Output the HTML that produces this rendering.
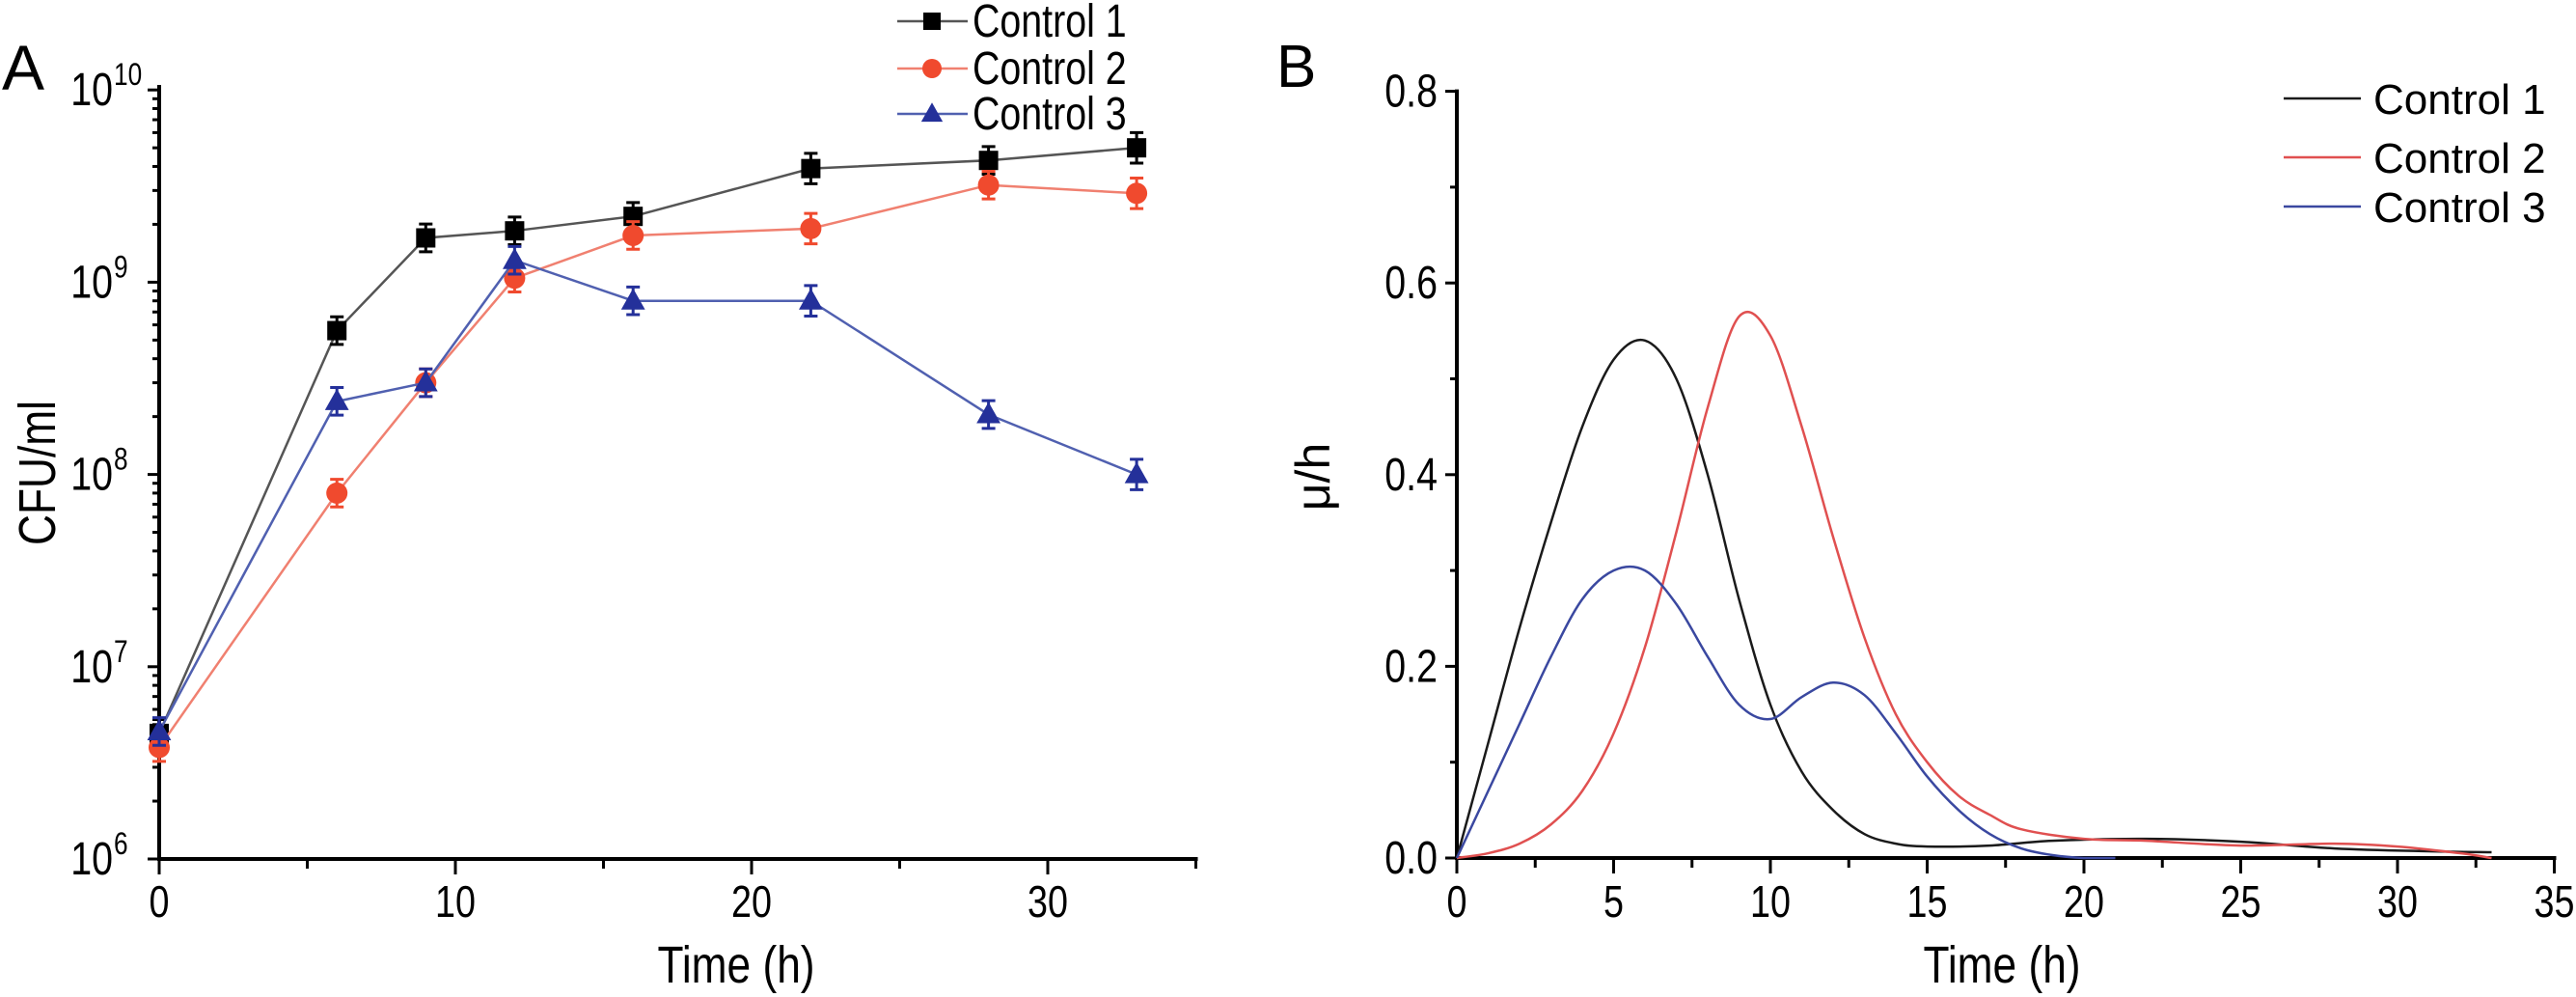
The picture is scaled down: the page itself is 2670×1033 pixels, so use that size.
<!DOCTYPE html>
<html><head><meta charset="utf-8">
<style>
html,body{margin:0;padding:0;background:#fff;}
svg{display:block;}
text{font-family:"Liberation Sans Narrow","Liberation Sans",sans-serif;fill:#000;}
.lg{font-family:"Liberation Sans",sans-serif;}
</style></head>
<body>
<svg id="chart" width="2670" height="1033" viewBox="0 0 2670 1033" xmlns="http://www.w3.org/2000/svg">
<g id="panelA"></g>
<g id="panelB"></g>
</svg>
<script>
// ---- Panel A data ----
const timesA = [0, 6, 9, 12, 16, 22, 28, 33];
const control1A = [4.5e6, 5.6e8, 1.7e9, 1.85e9, 2.2e9, 3.9e9, 4.3e9, 5.0e9];
const control2A = [3.8e6, 8.0e7, 3.0e8, 1.05e9, 1.75e9, 1.9e9, 3.2e9, 2.9e9];
const control3A = [4.6e6, 2.4e8, 3.0e8, 1.3e9, 8.0e8, 8.0e8, 2.05e8, 1.0e8];
const errFracA = [0.18, 0.18, 0.18, 0.18, 0.18, 0.2, 0.18, 0.2];
const xTicksA = [0, 10, 20, 30];
const yDecadesA = [6, 7, 8, 9, 10];
const seriesNamesA = ["Control 1", "Control 2", "Control 3"];

// ---- Panel B data ----
const t1B = [0, 1, 2, 3, 4, 5, 6, 7, 8, 9, 10, 11, 12, 13, 14, 15, 17, 19, 22, 25, 28, 31, 33];
const mu1B = [0, 0.12, 0.24, 0.35, 0.45, 0.52, 0.54, 0.50, 0.40, 0.27, 0.16, 0.09, 0.05, 0.025, 0.015, 0.012, 0.013, 0.018, 0.02, 0.017, 0.01, 0.007, 0.006];
const t2B = [0, 1, 2, 3, 4, 5, 6, 7, 8, 9, 10, 11, 12, 13, 14, 15, 16, 17, 18, 20, 22, 25, 28, 30, 32, 33];
const mu2B = [0, 0.005, 0.015, 0.035, 0.07, 0.13, 0.22, 0.34, 0.47, 0.565, 0.545, 0.45, 0.335, 0.23, 0.15, 0.1, 0.065, 0.045, 0.03, 0.02, 0.018, 0.013, 0.015, 0.012, 0.005, 0];
const t3B = [0, 1, 2, 3, 4, 5, 6, 7, 8, 9, 10, 11, 12, 13, 14, 15, 16, 17, 18, 19, 20, 21];
const mu3B = [0, 0.07, 0.14, 0.21, 0.27, 0.30, 0.30, 0.265, 0.21, 0.16, 0.145, 0.168, 0.183, 0.17, 0.13, 0.085, 0.05, 0.025, 0.01, 0.003, 0, 0];
const xTicksB = [0, 5, 10, 15, 20, 25, 30, 35];
const yTicksB = [0.0, 0.2, 0.4, 0.6, 0.8];

const NS = "http://www.w3.org/2000/svg";
function mk(parent, tag, attrs, txt){
  const e = document.createElementNS(NS, tag);
  for (const k in attrs) e.setAttribute(k, attrs[k]);
  if (txt !== undefined) e.textContent = txt;
  parent.appendChild(e);
  return e;
}
const SQ = 0.82;
function ntext(parent, x, y, size, anchor, str, rot){
  const tr = `translate(${x},${y})` + (rot ? ` rotate(${rot})` : "") + ` scale(${SQ},1)`;
  return mk(parent, "text", {x: 0, y: 0, "font-size": size, "text-anchor": anchor, transform: tr}, str);
}

// ===== Panel A =====
const gA = document.getElementById("panelA");
const AX0 = 165, AXPER = 30.7, AY6 = 890, ADEC = 199.2;
function xA(t){ return AX0 + t * AXPER; }
function yA(v){ return AY6 - (Math.log10(v) - 6) * ADEC; }

let e;
e = mk(gA, "text", {x: 2, y: 93, "font-size": 66, "font-family": "Liberation Sans, sans-serif"}, "A");



e = mk(gA, "line", {x1: AX0, y1: 88, x2: AX0, y2: AY6 + 2, stroke: "#000", "stroke-width": 4});


e = mk(gA, "line", {x1: AX0 - 2, y1: AY6, x2: xA(35) + 2, y2: AY6, stroke: "#000", "stroke-width": 4});



yDecadesA.forEach(d => {
  const y = yA(Math.pow(10, d));
  e = mk(gA, "line", {x1: AX0 - 12, y1: y, x2: AX0, y2: y, stroke: "#000", "stroke-width": 3});
  
  
  const t = ntext(gA, AX0 - 48, y + 16, 48, "end", "10");
  
  
  const s = ntext(gA, AX0 - 47, y - 5, 32, "start", String(d));
  
  
  if (d < 10) {
    for (let m = 2; m <= 9; m++) {
      const ym = yA(m * Math.pow(10, d));
      e = mk(gA, "line", {x1: AX0 - 7, y1: ym, x2: AX0, y2: ym, stroke: "#000", "stroke-width": 3});
      
      
    }
  }
});
for (let t = 0; t <= 35; t += 5) {
  const major = t % 10 === 0;
  e = mk(gA, "line", {x1: xA(t), y1: AY6, x2: xA(t), y2: AY6 + (major ? 16 : 10), stroke: "#000", "stroke-width": 3});
  
  
}
xTicksA.forEach(t => {
  e = ntext(gA, xA(t), 950, 46, "middle", String(t));
  
  
});
e = ntext(gA, 763, 1018, 54, "middle", "Time (h)");


e = ntext(gA, 57, 490, 54, "middle", "CFU/ml", -90);



const colorsA = ["#000000", "#f04a2e", "#24309a"];
const lineColA = ["#555555", "#f08070", "#5060b0"];
const seriesA = [control1A, control2A, control3A];
function marker(g, kind, x, y, col, sz){
  let m;
  if (kind === 0) m = mk(g, "rect", {x: x - sz/2, y: y - sz/2, width: sz, height: sz, fill: col});
  else if (kind === 1) m = mk(g, "circle", {cx: x, cy: y, r: sz/2 + 1, fill: col});
  else m = mk(g, "polygon", {points: `${x},${y - sz*0.65} ${x - sz*0.62},${y + sz*0.45} ${x + sz*0.62},${y + sz*0.45}`, fill: col});
  return m;
}
seriesA.forEach((vals, si) => {
  const g = mk(gA, "g", {});
  
  
  const pts = vals.map((v, i) => `${xA(timesA[i])},${yA(v)}`).join(" ");
  e = mk(g, "polyline", {points: pts, fill: "none", stroke: lineColA[si], "stroke-width": 2.5});
  
  
  vals.forEach((v, i) => {
    const x = xA(timesA[i]);
    const yt = yA(v * (1 + errFracA[i])), yb = yA(v / (1 + errFracA[i]));
    e = mk(g, "path", {d: `M${x},${yt}V${yb}M${x-7},${yt}H${x+7}M${x-7},${yb}H${x+7}`, stroke: colorsA[si], "stroke-width": 3, fill: "none"});
    
    
    e = marker(g, si, x, yA(v), colorsA[si], 20);
    
    
  });
});
const legYA = [22, 71, 118];
seriesNamesA.forEach((n, i) => {
  const g = mk(gA, "g", {});
  
  
  mk(g, "line", {x1: 930, y1: legYA[i], x2: 1003, y2: legYA[i], stroke: lineColA[i], "stroke-width": 2.5});
  marker(g, i, 966, legYA[i], colorsA[i], 18);
  ntext(g, 1008, legYA[i] + 16, 48, "start", n);
});

// ===== Panel B =====
const gB = document.getElementById("panelB");
const BX0 = 1510, BXPER = 32.5, BY0 = 889, BYPER = 993;
function xB(t){ return BX0 + t * BXPER; }
function yB(v){ return BY0 - v * BYPER; }

e = mk(gB, "text", {x: 1323, y: 90, "font-size": 62, "font-family": "Liberation Sans, sans-serif"}, "B");


e = mk(gB, "line", {x1: BX0, y1: yB(0.8) - 2, x2: BX0, y2: BY0 + 2, stroke: "#000", "stroke-width": 4});


e = mk(gB, "line", {x1: BX0 - 2, y1: BY0, x2: xB(35) + 2, y2: BY0, stroke: "#000", "stroke-width": 4});


for (let v = 0; v <= 0.8001; v += 0.1) {
  const major = Math.round(v * 10) % 2 === 0;
  e = mk(gB, "line", {x1: BX0 - (major ? 12 : 7), y1: yB(v), x2: BX0, y2: yB(v), stroke: "#000", "stroke-width": 3});
  
  
}
yTicksB.forEach(v => {
  e = ntext(gB, BX0 - 20, yB(v) + 16, 48, "end", v.toFixed(1));
  
  
});
for (let t = 0; t <= 35; t += 2.5) {
  const major = t % 5 === 0;
  e = mk(gB, "line", {x1: xB(t), y1: BY0, x2: xB(t), y2: BY0 + (major ? 16 : 10), stroke: "#000", "stroke-width": 3});
  
  
}
xTicksB.forEach(t => {
  e = ntext(gB, xB(t), 950, 46, "middle", String(t));
  
  
});
e = ntext(gB, 2075, 1018, 54, "middle", "Time (h)");


e = mk(gB, "text", {x: 0, y: 0, "font-size": 50, "text-anchor": "middle", "font-family": "Liberation Serif, serif", transform: "translate(1378,494) rotate(-90)"}, "μ/h");



function smoothPath(ts, vs){
  const p = ts.map((t, i) => [xB(t), yB(vs[i])]);
  let d = `M${p[0][0]},${p[0][1]}`;
  for (let i = 0; i < p.length - 1; i++) {
    const p0 = p[i - 1] || p[i], p1 = p[i], p2 = p[i + 1], p3 = p[i + 2] || p2;
    const c1x = p1[0] + (p2[0] - p0[0]) / 6, c1y = p1[1] + (p2[1] - p0[1]) / 6;
    const c2x = p2[0] - (p3[0] - p1[0]) / 6, c2y = p2[1] - (p3[1] - p1[1]) / 6;
    d += ` C${c1x},${Math.min(c1y, BY0)} ${c2x},${Math.min(c2y, BY0)} ${p2[0]},${p2[1]}`;
  }
  return d;
}
const colorsB = ["#1a1a1a", "#e05050", "#3a48a0"];
const seriesB = [[t1B, mu1B], [t2B, mu2B], [t3B, mu3B]];
seriesB.forEach((s, i) => {
  e = mk(gB, "path", {d: smoothPath(s[0], s[1]), fill: "none", stroke: colorsB[i], "stroke-width": 2.5});
  
  
});
const legYB = [102, 163, 214];
seriesNamesA.forEach((n, i) => {
  const g = mk(gB, "g", {});
  
  
  mk(g, "line", {x1: 2367, y1: legYB[i], x2: 2447, y2: legYB[i], stroke: colorsB[i], "stroke-width": 2.5});
  mk(g, "text", {x: 2460, y: legYB[i] + 16, "font-size": 44, class: "lg"}, n);
});
</script>
</body></html>
